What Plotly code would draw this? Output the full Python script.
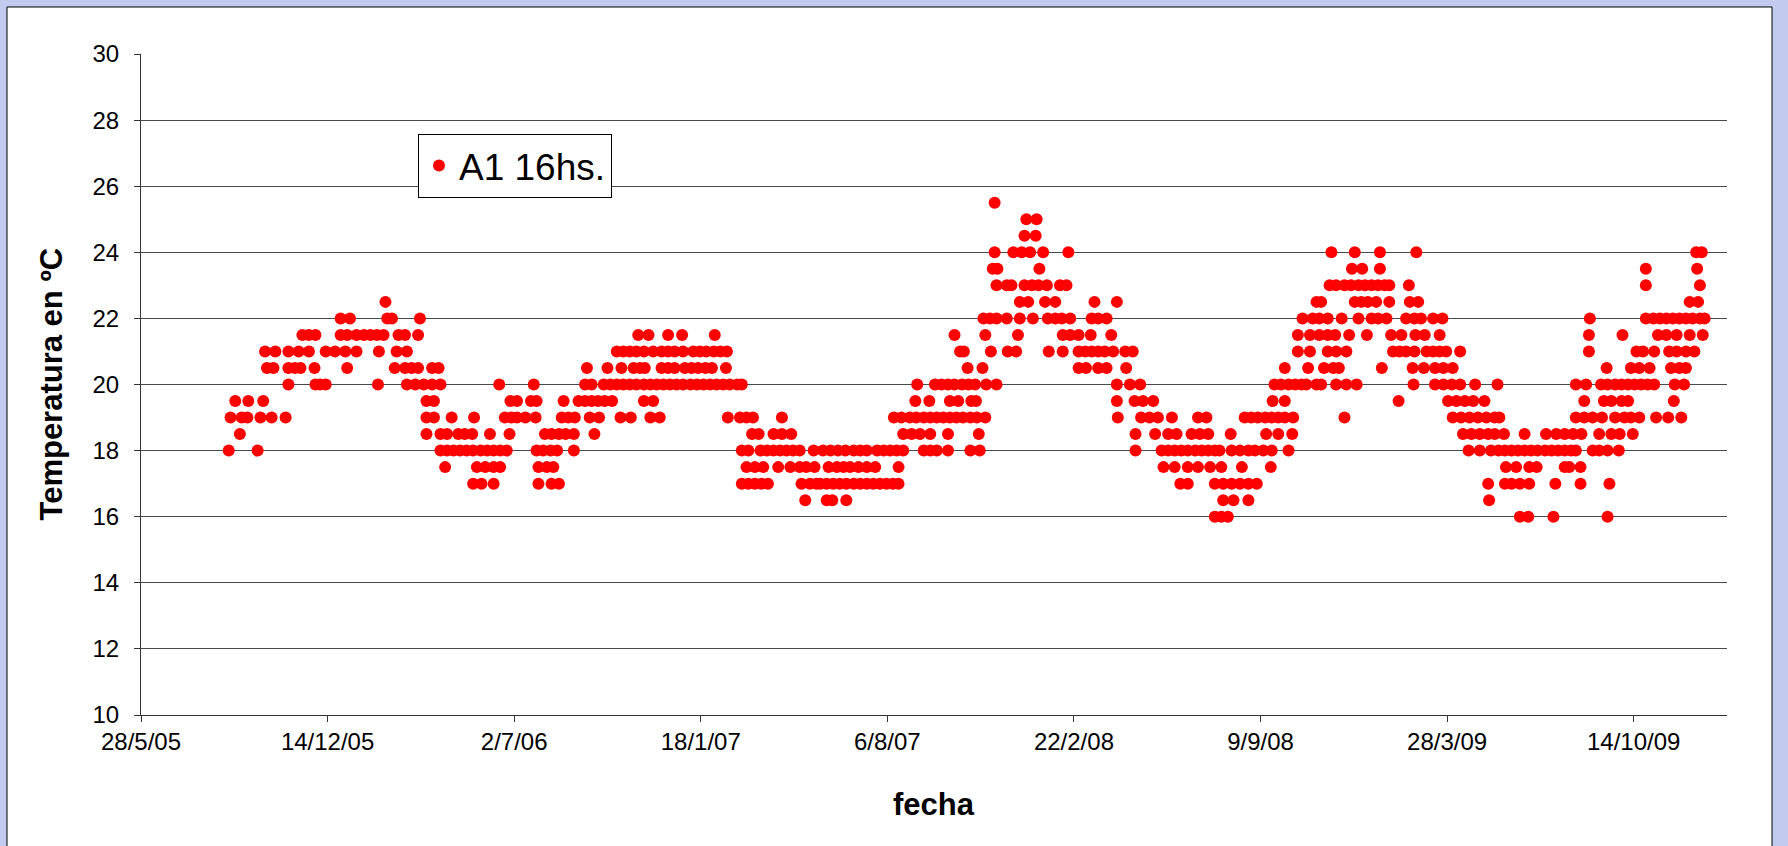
import pandas as pd
import plotly.graph_objects as go

# ---- data: days since 28/5/2005, grouped by temperature reading (ºC) ----
d_255 = [915]
d_250 = [949, 960]
d_245 = [947, 959]
d_240 = [915, 935, 944, 953, 967, 994, 1276, 1301, 1328, 1367, 1667, 1673]
d_235 = [913, 918, 963, 1298, 1309, 1328, 1613, 1668]
d_230 = [917, 928, 933, 947, 955, 962, 971, 985, 992, 1274, 1281, 1290, 1297, 1305,
         1312, 1319, 1326, 1333, 1338, 1359, 1613, 1671]
d_225 = [262, 942, 951, 969, 980, 1022, 1046, 1260, 1265, 1301, 1308, 1315, 1324,
         1338, 1360, 1369, 1660, 1669]
d_220 = [214, 224, 264, 269, 299, 903, 910, 917, 928, 942, 956, 972, 980, 987, 996,
         1019, 1026, 1035, 1245, 1256, 1263, 1272, 1287, 1305, 1319, 1326, 1335, 1356,
         1365, 1372, 1385, 1395, 1553, 1613, 1621, 1628, 1635, 1642, 1649, 1656, 1663,
         1671, 1676]
d_215 = [173, 180, 187, 214, 221, 231, 239, 246, 253, 260, 276, 283, 297, 533, 544, 565,
         580, 615, 872, 905, 940, 988, 996, 1005, 1018, 1040, 1240, 1253, 1263, 1272,
         1280, 1295, 1314, 1340, 1351, 1366, 1376, 1392, 1552, 1588, 1626, 1635, 1646,
         1660, 1674]
d_210 = [133, 144, 158, 169, 180, 198, 208, 219, 231, 255, 274, 285, 510, 517, 524, 531,
         539, 549, 558, 565, 572, 581, 592, 599, 606, 614, 621, 628, 878, 882, 911, 929,
         938, 973, 988, 1005, 1012, 1019, 1026, 1033, 1042, 1055, 1063, 1240, 1253, 1272,
         1281, 1292, 1342, 1349, 1356, 1365, 1378, 1385, 1392, 1399, 1414, 1552, 1603,
         1610, 1622, 1638, 1646, 1656, 1665]
d_205 = [135, 142, 158, 165, 171, 186, 221, 272, 283, 290, 297, 312, 319, 478, 500, 515,
         528, 535, 540, 558, 565, 572, 583, 590, 597, 605, 612, 627, 886, 902, 1005, 1013,
         1026, 1035, 1056, 1226, 1251, 1268, 1278, 1284, 1330, 1363, 1375, 1387, 1396,
         1406, 1571, 1597, 1606, 1617, 1640, 1649, 1656]
d_200 = [158, 187, 192, 198, 254, 285, 294, 303, 312, 321, 384, 421, 476, 483, 496, 503,
         510, 517, 524, 531, 539, 546, 553, 560, 567, 574, 581, 589, 596, 603, 610, 617,
         624, 631, 639, 644, 832, 851, 858, 865, 872, 880, 887, 894, 906, 917, 1046, 1060,
         1071, 1215, 1222, 1230, 1237, 1244, 1249, 1260, 1265, 1281, 1292, 1303, 1364,
         1387, 1396, 1405, 1414, 1430, 1454, 1538, 1549, 1565, 1572, 1580, 1587, 1594,
         1601, 1608, 1615, 1622, 1644, 1654]
d_195 = [101, 115, 131, 306, 314, 396, 403, 418, 424, 453, 469, 476, 483, 490, 497, 505,
         539, 549, 830, 845, 867, 876, 890, 895, 1046, 1065, 1074, 1085, 1213, 1226, 1348,
         1401, 1410, 1419, 1428, 1440, 1547, 1568, 1576, 1587, 1594, 1643]
d_190 = [96, 108, 114, 128, 140, 155, 306, 314, 333, 357, 390, 397, 403, 412, 423, 451,
         458, 465, 481, 491, 514, 525, 546, 556, 629, 642, 649, 656, 687, 807, 815, 824,
         831, 839, 846, 853, 860, 867, 874, 881, 889, 896, 905, 1047, 1072, 1081, 1090,
         1105, 1133, 1142, 1183, 1190, 1197, 1205, 1212, 1219, 1226, 1235, 1290, 1406,
         1415, 1424, 1433, 1442, 1451, 1456, 1538, 1547, 1556, 1566, 1580, 1590, 1597,
         1606, 1624, 1637, 1651]
d_185 = [106, 306, 321, 328, 340, 347, 355, 374, 395, 433, 440, 448, 455, 464, 486, 655,
         662, 678, 687, 697, 817, 826, 835, 846, 865, 898, 1066, 1087, 1101, 1110, 1126,
         1135, 1144, 1168, 1206, 1219, 1234, 1417, 1426, 1435, 1444, 1451, 1461, 1483,
         1506, 1517, 1526, 1535, 1544, 1563, 1576, 1585, 1599]
d_180 = [94, 125, 321, 328, 335, 342, 349, 356, 364, 371, 378, 385, 392, 424, 431, 439,
         446, 464, 644, 651, 664, 671, 678, 685, 692, 699, 706, 721, 731, 739, 747, 755,
         764, 771, 778, 789, 796, 803, 810, 817, 839, 846, 853, 865, 889, 899, 1066, 1094,
         1101, 1108, 1115, 1122, 1130, 1137, 1144, 1151, 1156, 1169, 1178, 1187, 1194,
         1203, 1212, 1230, 1423, 1435, 1447, 1455, 1462, 1469, 1476, 1483, 1490, 1497,
         1505, 1512, 1519, 1526, 1533, 1538, 1556, 1563, 1572, 1584]
d_175 = [326, 360, 369, 378, 385, 426, 435, 442, 649, 658, 667, 683, 696, 706, 713, 722,
         737, 746, 753, 760, 769, 778, 787, 812, 1096, 1108, 1122, 1133, 1146, 1158, 1180,
         1211, 1463, 1474, 1488, 1496, 1526, 1531, 1543]
d_170 = [356, 365, 378, 426, 440, 448, 644, 651, 658, 665, 672, 708, 717, 724, 728, 735,
         742, 749, 756, 764, 771, 778, 785, 792, 799, 806, 812, 1114, 1122, 1151, 1160,
         1169, 1178, 1187, 1196, 1444, 1462, 1469, 1478, 1488, 1516, 1543, 1574]
d_165 = [712, 735, 741, 756, 1160, 1171, 1187, 1445]
d_160 = [1151, 1158, 1165, 1478, 1487, 1514, 1572]

niveles = [25.5, 25.0, 24.5, 24.0, 23.5, 23.0, 22.5, 22.0, 21.5, 21.0, 20.5, 20.0,
           19.5, 19.0, 18.5, 18.0, 17.5, 17.0, 16.5, 16.0]
grupos = [d_255, d_250, d_245, d_240, d_235, d_230, d_225, d_220, d_215, d_210, d_205,
          d_200, d_195, d_190, d_185, d_180, d_175, d_170, d_165, d_160]

tick_fechas = ["2005-05-28", "2005-12-14", "2006-07-02", "2007-01-18", "2007-08-06",
               "2008-02-22", "2008-09-09", "2009-03-28", "2009-10-14"]
tick_textos = ["28/5/05", "14/12/05", "2/7/06", "18/1/07", "6/8/07", "22/2/08",
               "9/9/08", "28/3/09", "14/10/09"]
rango_x = ["2005-05-28", "2010-01-22"]

# ---- build series ----
origen = pd.Timestamp("2005-05-28")
dias, temps = [], []
for t, g in zip(niveles, grupos):
    dias += g
    temps += [t] * len(g)
orden = sorted(range(len(dias)), key=lambda i: dias[i])
fechas = [origen + pd.Timedelta(days=dias[i]) for i in orden]
valores = [temps[i] for i in orden]

FONT = "Liberation Sans, Arial, sans-serif"

fig = go.Figure()
fig.add_trace(go.Scatter(
    x=fechas, y=valores, mode="markers", name="A1 16hs.",
    marker=dict(color="#FF0000", size=12, line=dict(width=0)),
))

W, H = 1788, 846
L, R, T, B = 141, 61, 54, 131
pw, ph = W - L - R, H - T - B

def px_to_paper_x(px):
    return (px - L) / pw

def px_to_paper_y(py):
    return (H - B - py) / ph

fig.update_layout(
    width=W, height=H, autosize=False,
    margin=dict(l=L, r=R, t=T, b=B, pad=0),
    paper_bgcolor="#c0cbef",
    plot_bgcolor="white",
    font=dict(family=FONT, color="black", size=24),
    showlegend=True,
    legend=dict(
        x=px_to_paper_x(418), y=px_to_paper_y(134), xanchor="left", yanchor="top",
        bgcolor="white", bordercolor="black", borderwidth=1,
        font=dict(family=FONT, size=37, color="black"),
        itemsizing="constant", tracegroupgap=0,
    ),
    shapes=[dict(
        type="rect", xref="paper", yref="paper", layer="below",
        x0=px_to_paper_x(7), x1=px_to_paper_x(1772),
        y0=px_to_paper_y(860), y1=px_to_paper_y(7),
        fillcolor="white", line=dict(color="black", width=1),
    )],
    annotations=[
        dict(text="<b>Temperatura en ºC</b>", xref="paper", yref="paper",
             x=px_to_paper_x(51), y=0.5, xanchor="center", yanchor="middle",
             textangle=-90, showarrow=False, font=dict(family=FONT, size=31)),
        dict(text="<b>fecha</b>", xref="paper", yref="paper",
             x=0.5, y=px_to_paper_y(804), xanchor="center", yanchor="middle",
             showarrow=False, font=dict(family=FONT, size=31)),
    ],
)

fig.update_xaxes(
    type="date", range=rango_x,
    tickmode="array", tickvals=tick_fechas, ticktext=tick_textos,
    ticks="outside", ticklen=6, tickcolor="#333", tickwidth=1,
    ticklabelstandoff=-1,
    showline=True, linecolor="#333", linewidth=1,
    showgrid=False, zeroline=False,
    tickfont=dict(family=FONT, size=24),
)
fig.update_yaxes(
    range=[10, 30], dtick=2, tick0=10,
    ticks="outside", ticklen=6, tickcolor="#333", tickwidth=1,
    ticklabelstandoff=10,
    showline=True, linecolor="#333", linewidth=1,
    showgrid=True, gridcolor="#4a4a4a", gridwidth=1,
    zeroline=False,
    tickfont=dict(family=FONT, size=24),
)

fig.write_html("out.html")
